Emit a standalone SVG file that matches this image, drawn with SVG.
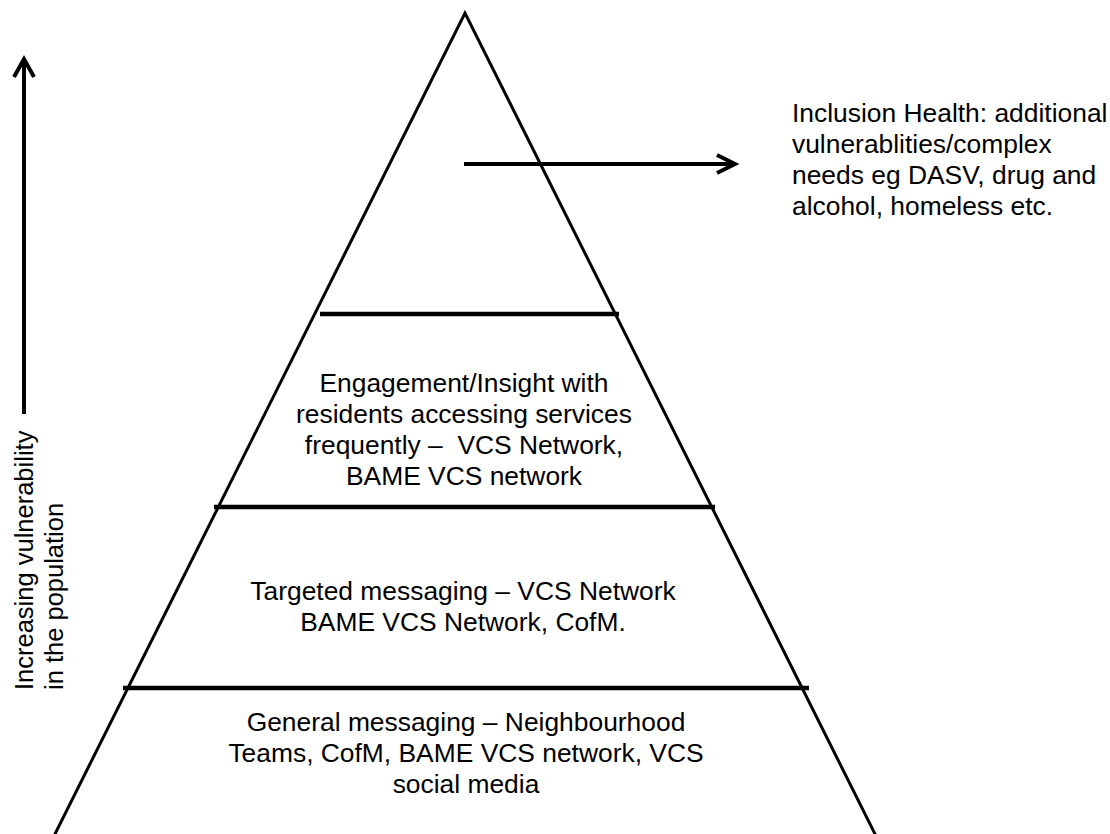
<svg xmlns="http://www.w3.org/2000/svg" width="1110" height="834" viewBox="0 0 1110 834">
<style>
.t{font-family:"Liberation Sans",Arial,sans-serif;font-size:26.4px;fill:#000}
.r{font-size:25.5px}
.c{text-anchor:middle}
.edge{fill:none;stroke:#000;stroke-width:3}
.band{stroke:#000;stroke-width:4.5}
.arr{fill:none;stroke:#000;stroke-width:4}
</style>
<rect width="1110" height="834" fill="#fff"/>
<g id="pyramid">
<polyline class="edge" points="54,836 465,13 876,836"/>
</g>
<g id="connectors">
<line class="band" x1="320" y1="314" x2="619" y2="314"/>
<line class="band" x1="214" y1="507" x2="715" y2="507"/>
<line class="band" x1="123" y1="688" x2="809" y2="688"/>
<line class="arr" x1="464" y1="164" x2="734" y2="164"/>
<polyline class="arr" points="717,155 735,164 717,173" stroke-linejoin="miter"/>
<line class="arr" x1="24" y1="60" x2="24" y2="414"/>
<polyline class="arr" points="14,77 24,59 34,77" stroke-linejoin="miter"/>
</g>
<g id="top-label">
<text class="t" x="792" y="122">Inclusion Health: additional</text>
<text class="t" x="792" y="153">vulnerablities/complex</text>
<text class="t" x="792" y="184">needs eg DASV, drug and</text>
<text class="t" x="792" y="215">alcohol, homeless etc.</text>
</g>
<g id="tier-engagement">
<text class="t c" x="464" y="392">Engagement/Insight with</text>
<text class="t c" x="464" y="423">residents accessing services</text>
<text class="t c" x="464" y="454">frequently –&#160; VCS Network,</text>
<text class="t c" x="464" y="485">BAME VCS network</text>
</g>
<g id="tier-targeted">
<text class="t c" x="463" y="600">Targeted messaging – VCS Network</text>
<text class="t c" x="463" y="631">BAME VCS Network, CofM.</text>
</g>
<g id="tier-general">
<text class="t c" x="466" y="731">General messaging – Neighbourhood</text>
<text class="t c" x="466" y="762">Teams, CofM, BAME VCS network, VCS</text>
<text class="t c" x="466" y="793">social media</text>
</g>
<g id="axis-label" transform="translate(33,690) rotate(-90)">
<text class="t r" x="0" y="0">Increasing vulnerability</text>
<text class="t r" x="0" y="30">in the population</text>
</g>
</svg>
